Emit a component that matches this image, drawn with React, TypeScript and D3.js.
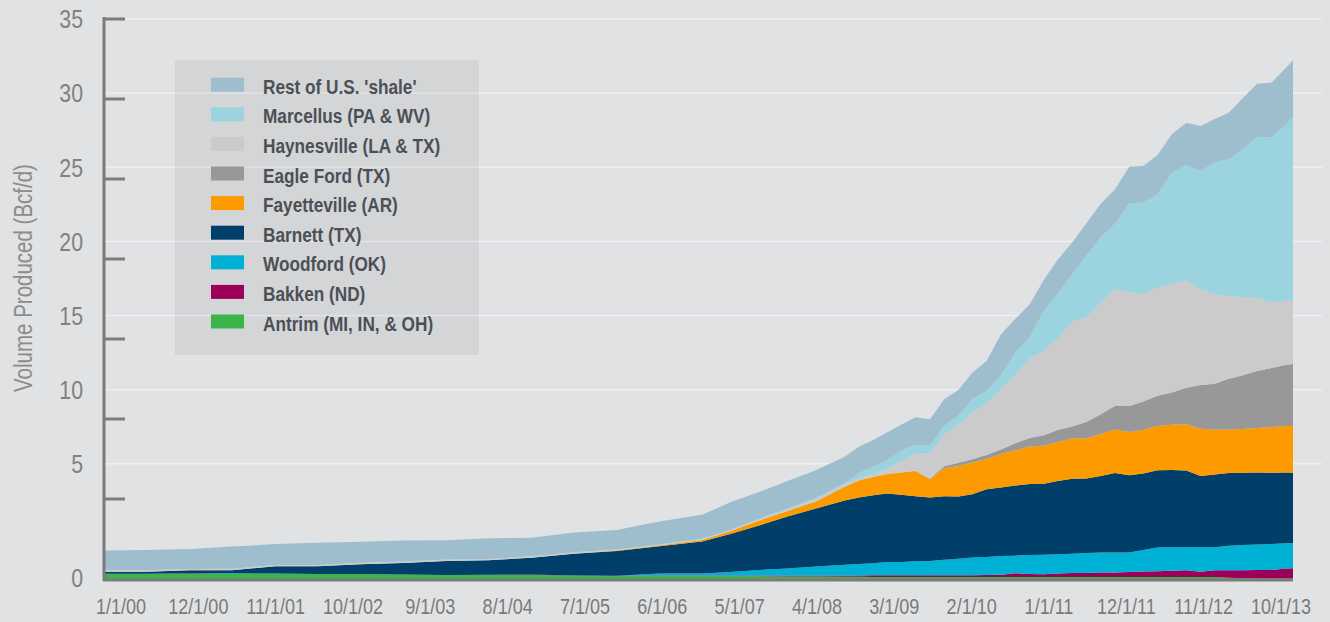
import React from "react";
import * as d3 from "d3";

// month offsets from Jan 2000 for each sample
const months = [
  0, 6, 12, 18, 24, 30, 36, 42, 48, 54, 60, 66, 72, 78, 84, 88, 92, 96, 100, 104,
  106, 108, 110, 112, 114, 116, 118, 120, 122, 124, 126, 128, 130, 132, 134, 136, 138, 140, 142, 144,
  146, 148, 150, 152, 154, 156, 158, 160, 162, 164, 166, 167,
];

const antrim = [0.33,0.33,0.33,0.33,0.33,0.31,0.31,0.28,0.25,0.25,0.25,0.22,0.19,0.19,0.19,0.18,0.17,0.16,0.16,0.14,0.14,0.13,0.13,0.13,0.13,0.13,0.13,0.13,0.13,0.13,0.13,0.13,0.13,0.13,0.13,0.13,0.13,0.13,0.13,0.13,0.13,0.13,0.13,0.13,0.13,0.13,0.08,0.04,0.04,0.03,0.03,0.03];
const bakken = [0,0,0.03,0,0,0,0,0,0,0.02,0.03,0,0.02,0.03,0.03,0.04,0.05,0.06,0.06,0.08,0.08,0.1,0.1,0.11,0.11,0.11,0.11,0.11,0.11,0.12,0.13,0.23,0.19,0.17,0.21,0.24,0.25,0.27,0.28,0.31,0.34,0.36,0.39,0.41,0.33,0.41,0.47,0.51,0.53,0.54,0.63,0.64];
const woodford = [0,0,0,0.03,0.01,0,0,0,0,0,0,0,0,0.13,0.13,0.22,0.34,0.44,0.56,0.67,0.72,0.76,0.83,0.83,0.87,0.89,0.96,1.03,1.11,1.13,1.17,1.1,1.18,1.22,1.21,1.21,1.24,1.25,1.24,1.21,1.34,1.48,1.46,1.45,1.54,1.44,1.53,1.58,1.59,1.61,1.58,1.58];
const barnett = [0.13,0.13,0.18,0.19,0.45,0.48,0.61,0.72,0.88,0.9,1.05,1.36,1.54,1.7,2.0,2.38,2.78,3.25,3.63,4.01,4.16,4.25,4.29,4.19,4.06,3.96,3.97,3.89,3.94,4.23,4.29,4.38,4.44,4.43,4.58,4.69,4.66,4.79,4.98,4.84,4.79,4.83,4.83,4.79,4.44,4.55,4.54,4.51,4.49,4.46,4.41,4.39];
const fayetteville = [0,0,0,0,0,0,0,0,0,0,0,0,0.03,0.05,0.08,0.16,0.31,0.34,0.44,0.86,1.06,1.14,1.22,1.39,1.57,1.15,1.75,1.91,1.99,1.89,2.09,2.2,2.34,2.38,2.44,2.51,2.52,2.63,2.71,2.7,2.73,2.77,2.83,2.89,2.95,2.81,2.73,2.74,2.79,2.86,2.91,2.92];
const eagleFord = [0,0,0,0,0,0,0,0,0,0,0,0,0,0,0,0,0,0,0,0,0,0,0,0,0.02,0.02,0.13,0.2,0.21,0.25,0.29,0.44,0.54,0.66,0.75,0.75,1.02,1.23,1.48,1.63,1.76,1.88,2.01,2.28,2.73,2.86,3.16,3.36,3.56,3.69,3.83,3.88];
const haynesville = [0.09,0.09,0.09,0.09,0.09,0.09,0.09,0.09,0.09,0.08,0.09,0.09,0.06,0.06,0.06,0.06,0.09,0.09,0.13,0.13,0.13,0.16,0.34,0.69,1.09,1.59,1.99,2.38,2.91,3.22,3.78,4.29,4.98,5.28,5.69,6.53,6.53,6.96,7.29,7.1,6.73,6.75,6.79,6.69,5.99,5.59,5.18,4.89,4.58,4.09,4.0,3.94];
const marcellus = [0,0,0,0,0,0,0,0,0,0,0,0,0,0,0.02,0.03,0.03,0.06,0.09,0.09,0.34,0.47,0.5,0.67,0.53,0.47,0.54,0.59,0.83,0.78,0.84,1.37,1.31,2.5,2.81,2.97,3.83,4.1,4.1,5.53,5.71,5.84,6.94,7.24,7.39,8.26,8.54,9.25,10.06,10.31,11.02,11.5];
const restOfShale = [1.23,1.26,1.25,1.39,1.3,1.39,1.32,1.31,1.2,1.29,1.16,1.23,1.22,1.43,1.5,1.72,1.66,1.72,1.72,1.66,1.63,1.68,1.75,1.63,1.73,1.67,1.65,1.58,1.66,1.88,2.56,2.12,2.05,1.94,2.13,1.99,2.04,2.09,2.15,2.31,2.29,2.46,2.42,2.64,2.81,2.7,2.91,3.19,3.32,3.44,3.54,3.54];

// bottom to top
const seriesNames = [
  "Antrim (MI, IN, & OH)",
  "Bakken (ND)",
  "Woodford (OK)",
  "Barnett (TX)",
  "Fayetteville (AR)",
  "Eagle Ford (TX)",
  "Haynesville (LA & TX)",
  "Marcellus (PA & WV)",
  "Rest of U.S. 'shale'",
];
const seriesValues = [antrim, bakken, woodford, barnett, fayetteville, eagleFord, haynesville, marcellus, restOfShale];
const seriesColors = ["#3bb54a", "#9c005a", "#00b1d6", "#003f69", "#fd9a00", "#989898", "#cbcbcb", "#9bd3df", "#9ebece"];

const xLabels = ["1/1/00", "12/1/00", "11/1/01", "10/1/02", "9/1/03", "8/1/04", "7/1/05", "6/1/06", "5/1/07", "4/1/08", "3/1/09", "2/1/10", "1/1/11", "12/1/11", "11/1/12", "10/1/13"];
const yTicks = [0, 5, 10, 15, 20, 25, 30, 35];

const W = 1330;
const H = 622;
const font = "'Liberation Sans', Arial, sans-serif";
const axisColor = "#7b7b7b";
const narrow = 0.82; // squeeze Liberation Sans to an Arial Narrow–like width

// narrow text: scaled horizontally around its anchor point
function NText({ x, y, children, rotate = 0, ...rest }: any) {
  return (
    <text
      transform={`translate(${x},${y}) rotate(${rotate}) scale(${narrow},1)`}
      dominantBaseline="central"
      {...rest}
    >
      {children}
    </text>
  );
}

export default function App() {
  const rows = months.map((m, i) => {
    const r: any = { date: new Date(2000, m, 1) };
    seriesNames.forEach((k, j) => (r[k] = seriesValues[j][i]));
    return r;
  });

  const x = d3.scaleTime().domain([new Date(2000, 0, 1), new Date(2013, 11, 1)]).range([104, 1293]);
  const y = d3.scaleLinear().domain([0, 35]).range([579, 19]);
  // labels and gridlines sit on their own spacing in the original
  const gridY = d3.scaleLinear().domain([0, 35]).range([538, 19]);
  const xLab = d3.scalePoint<string>().domain(xLabels).range([121, 1281]);

  const stacked = d3.stack<any>().keys(seriesNames)(rows);
  const area = d3
    .area<any>()
    .x((d) => x(d.data.date))
    .y0((d) => y(d[0]))
    .y1((d) => y(d[1]));

  const legendOrder = seriesNames.map((n, i) => ({ n, c: seriesColors[i] })).reverse();

  return (
    <svg width={W} height={H} style={{ position: "absolute", left: 0, top: 0 }} fontFamily={font}>
      <rect width={W} height={H} fill="#e1e2e4" />

      {yTicks.filter((t) => t > 0).map((t) => (
        <line key={t} x1={104} x2={1322} y1={gridY(t)} y2={gridY(t)} stroke="#eef0f1" strokeWidth={1.5} />
      ))}

      <rect x={175} y={60} width={304} height={295} fill="#000" opacity={0.055} />

      {stacked.map((s, i) => (
        <path key={s.key} d={area(s) || ""} fill={seriesColors[i]} />
      ))}

      <line x1={104} x2={104} y1={17} y2={581} stroke={axisColor} strokeWidth={3} />
      <line x1={103} x2={1293} y1={580} y2={580} stroke={axisColor} strokeWidth={3} />
      {yTicks.filter((t) => t > 0).map((t) => (
        <line key={t} x1={104} x2={125} y1={y(t)} y2={y(t)} stroke={axisColor} strokeWidth={3} />
      ))}

      {yTicks.map((t) => (
        <NText key={t} x={83} y={t === 0 ? 578 : gridY(t)} textAnchor="end" fontSize={26} fill="#808080">
          {t}
        </NText>
      ))}

      {xLabels.map((l) => (
        <NText key={l} x={xLab(l)} y={606} textAnchor="middle" fontSize={22} fill="#7a7a7a">
          {l}
        </NText>
      ))}

      <NText x={23} y={278} rotate={-90} textAnchor="middle" fontSize={25} fill="#8c8c8c">
        Volume Produced (Bcf/d)
      </NText>

      {legendOrder.map((d, i) => (
        <g key={d.n} transform={`translate(211,${84.7 + i * 29.6})`}>
          <rect x={0} y={-7} width={33} height={14} fill={d.c} />
          <NText x={52} y={2} fontSize={21} fontWeight="bold" fill="#4b5057">
            {d.n}
          </NText>
        </g>
      ))}
    </svg>
  );
}
